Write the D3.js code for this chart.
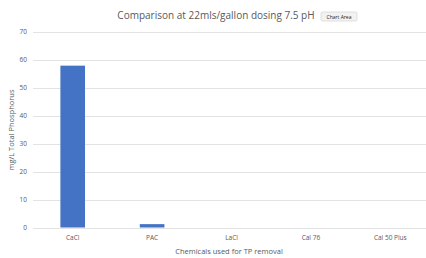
<!DOCTYPE html>
<html>
<head>
<meta charset="utf-8">
<script src="https://cdn.jsdelivr.net/npm/d3@7"></script>
<style>
  body { margin: 0; background: #fff; }
  text { font-family: "Open Sans", "Liberation Sans", sans-serif; fill: #595959; }
</style>
</head>
<body>
<div id="chart"></div>
<script>
// chart data
const chemicals = ["CaCl", "PAC", "LaCl", "Cal 76", "Cal 50 Plus"];
const phosphorus = [57.8, 1.2, 0, 0, 0];
const yTicks = [0, 10, 20, 30, 40, 50, 60, 70];

const width = 426;
const height = 258;

let svg = d3.select("#chart").append("svg")
  .attr("width", width)
  .attr("height", height);

let x = d3.scaleBand()
  .domain(chemicals)
  .range([33, 430])
  .paddingInner(0.69)
  .paddingOuter(0.345);

let y = d3.scaleLinear()
  .domain([0, 70])
  .range([227.5, 31.5]);

// gridlines
svg.append("g")
  .selectAll("line")
  .data(yTicks)
  .enter()
  .append("line")
  .attr("x1", 33)
  .attr("x2", 426)
  .attr("y1", d => Math.round(y(d)) + 0.5)
  .attr("y2", d => Math.round(y(d)) + 0.5)
  .attr("stroke", "#e3e3e3")
  .attr("stroke-width", 1);

// y tick labels
let yAxis = d3.axisLeft(y).tickValues(yTicks).tickSize(0).tickPadding(6);
svg.append("g")
  .attr("transform", "translate(33,0)")
  .call(yAxis)
  .call(g => g.select(".domain").remove())
  .selectAll("text")
  .style("font-size", "6.5px")
  .style("fill", "#595959");

// bars
svg.append("g")
  .selectAll("rect")
  .data(chemicals)
  .enter()
  .append("rect")
  .attr("x", d => x(d))
  .attr("width", x.bandwidth())
  .attr("y", (d, i) => y(phosphorus[i]))
  .attr("height", (d, i) => y(0) - y(phosphorus[i]))
  .attr("fill", "#4472C4");

// x category labels
let xAxis = d3.axisBottom(x).tickSize(0).tickPadding(8);
svg.append("g")
  .attr("transform", `translate(0,${y(0)})`)
  .call(xAxis)
  .call(g => g.select(".domain").remove())
  .selectAll("text")
  .style("font-size", "6.5px")
  .style("fill", "#595959");

// titles
svg.append("text")
  .attr("x", 216)
  .attr("y", 19)
  .attr("text-anchor", "middle")
  .style("font-size", "10px")
  .text("Comparison at 22mls/gallon dosing 7.5 pH");

svg.append("text")
  .attr("x", 229)
  .attr("y", 254)
  .attr("text-anchor", "middle")
  .style("font-size", "7.5px")
  .text("Chemicals used for TP removal");

svg.append("text")
  .attr("transform", "translate(14,130) rotate(-90)")
  .attr("text-anchor", "middle")
  .style("font-size", "7.5px")
  .text("mg/L Total Phosphorus");

// "Chart Area" tooltip
let tip = svg.append("g").attr("transform", "translate(321,12)");
tip.append("rect")
  .attr("width", 36)
  .attr("height", 9)
  .attr("rx", 1.5)
  .attr("fill", "#f2f2f2")
  .attr("stroke", "#cfcfcf")
  .attr("stroke-width", 0.6);
tip.append("text")
  .attr("x", 18)
  .attr("y", 6.6)
  .attr("text-anchor", "middle")
  .style("font-size", "5px")
  .style("fill", "#222")
  .text("Chart Area");
</script>
</body>
</html>
